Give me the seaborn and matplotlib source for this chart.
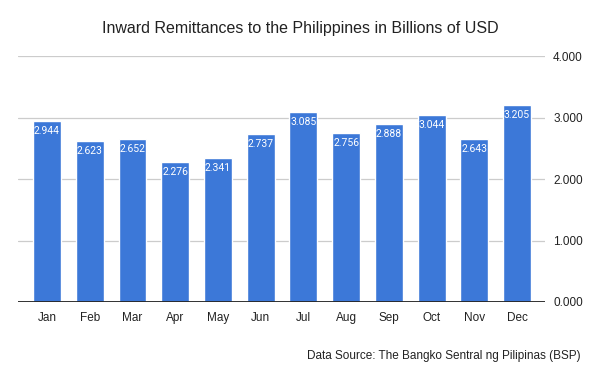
import matplotlib.pyplot as plt
import seaborn as sns
import pandas as pd

months = ["Jan", "Feb", "Mar", "Apr", "May", "Jun",
          "Jul", "Aug", "Sep", "Oct", "Nov", "Dec"]
remittances = [2.944, 2.623, 2.652, 2.276, 2.341, 2.737,
               3.085, 2.756, 2.888, 3.044, 2.643, 3.205]
y_ticks = [0, 1, 2, 3, 4]

sns.set_style("white")
plt.rcParams["font.family"] = ["Liberation Sans", "DejaVu Sans"]

df = pd.DataFrame({"month": months, "value": remittances})

fig = plt.figure(figsize=(6, 3.71), dpi=100)
ax = fig.add_axes([0.03, 0.186, 0.878, 0.663])

sns.barplot(data=df, x="month", y="value", color="#3c78d8",
            saturation=1, width=0.655, ax=ax, zorder=3)

# value labels inside the bars
for i, v in enumerate(remittances):
    ax.annotate(f"{v:.3f}", (i, v), xytext=(0, -10), textcoords="offset pixels",
                ha="center", va="center", color="white", fontsize=7.5,
                family=["Roboto", "DejaVu Sans"], zorder=4)

ax.set_xlim(-0.68, 11.65)
ax.set_ylim(0, 4)
ax.set_yticks(y_ticks)
ax.set_yticklabels([f"{t:.3f}" for t in y_ticks])
ax.yaxis.tick_right()
ax.tick_params(axis="both", length=0, labelsize=8.5, colors="#222222")
ax.tick_params(axis="y", pad=6)
ax.tick_params(axis="x", pad=7)
ax.grid(axis="y", color="#cccccc", linewidth=0.9, zorder=0)
ax.axhline(0, color="#222222", linewidth=1.3, zorder=5)
ax.set_xlabel("")
ax.set_ylabel("")
for s in ax.spines.values():
    s.set_visible(False)

fig.text(0.5, 1 - 28 / 371, "Inward Remittances to the Philippines in Billions of USD",
         ha="center", va="center", fontsize=11.5, color="#222222")
fig.text(581 / 600, 1 - 356 / 371, "Data Source: The Bangko Sentral ng Pilipinas (BSP)",
         ha="right", va="center", fontsize=8.5, color="#222222")

fig.savefig("out.png", dpi=100)
